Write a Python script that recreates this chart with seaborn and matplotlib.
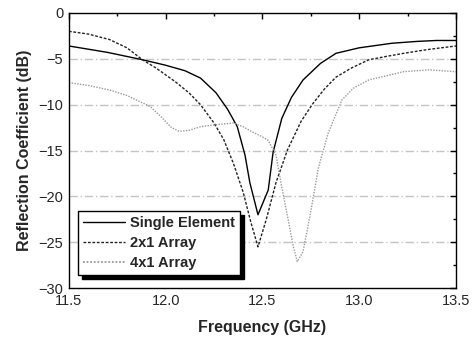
import numpy as np
import pandas as pd
import seaborn as sns
import matplotlib
matplotlib.use("Agg")
import matplotlib.pyplot as plt
from matplotlib.ticker import MultipleLocator

# Data
single_f = [11.5, 11.7, 11.88, 12.0, 12.1, 12.18, 12.26, 12.32, 12.37, 12.41, 12.435,
            12.477, 12.53, 12.555, 12.6, 12.65, 12.71, 12.8, 12.88, 13.0, 13.17, 13.3, 13.4, 13.5]
single_db = [-3.6, -4.3, -5.1, -5.7, -6.3, -7.1, -8.7, -10.5, -12.4, -15.5, -18.5,
             -22.0, -19.3, -15.2, -11.5, -9.2, -7.3, -5.5, -4.4, -3.8, -3.3, -3.1, -3.0, -3.0]

arr2_f = [11.5, 11.6, 11.71, 11.8, 11.88, 11.95, 12.05, 12.12, 12.18, 12.25, 12.3, 12.35,
          12.4, 12.44, 12.477, 12.52, 12.57, 12.63, 12.7, 12.76, 12.82, 12.88, 12.96,
          13.05, 13.15, 13.23, 13.35, 13.5]
arr2_db = [-2.0, -2.3, -2.9, -3.8, -5.1, -6.0, -7.5, -8.7, -10.0, -12.0, -13.8, -16.4,
           -19.5, -22.8, -25.5, -22.5, -18.5, -14.9, -11.8, -9.9, -8.3, -7.0, -6.0,
           -5.1, -4.7, -4.4, -4.0, -3.6]

arr4_f = [11.5, 11.6, 11.71, 11.8, 11.92, 11.98, 12.03, 12.07, 12.12, 12.18, 12.25, 12.35,
          12.4, 12.45, 12.5, 12.53, 12.57, 12.6, 12.63, 12.66, 12.68, 12.71, 12.745, 12.79,
          12.84, 12.91, 12.97, 13.05, 13.15, 13.23, 13.36, 13.5]
arr4_db = [-7.6, -7.9, -8.4, -9.0, -10.2, -11.4, -12.5, -12.9, -12.8, -12.4, -12.2, -12.0,
           -12.4, -13.0, -13.5, -13.9, -15.5, -19.0, -22.2, -25.5, -27.1, -26.0, -22.2, -16.8,
           -13.1, -9.5, -8.2, -7.3, -6.8, -6.4, -6.2, -6.4]

labels = ["Single Element", "2x1 Array", "4x1 Array"]

df = pd.concat([
    pd.DataFrame({"freq": single_f, "s11": single_db, "series": labels[0]}),
    pd.DataFrame({"freq": arr2_f, "s11": arr2_db, "series": labels[1]}),
    pd.DataFrame({"freq": arr4_f, "s11": arr4_db, "series": labels[2]}),
], ignore_index=True)

sns.set_style("white")
plt.rcParams["font.family"] = ["Liberation Sans", "DejaVu Sans"]

fig = plt.figure(figsize=(4.72, 3.41), dpi=100)
ax = fig.add_axes([0.146, 0.155, 0.820, 0.807])

palette = {labels[0]: "black", labels[1]: "#222222", labels[2]: "#9a9a9a"}
dashes = {labels[0]: "", labels[1]: (2.0, 1.2), labels[2]: (1.0, 1.0)}
sns.lineplot(data=df, x="freq", y="s11", hue="series", style="series",
             palette=palette, dashes=dashes, sort=False, estimator=None,
             linewidth=1.0, ax=ax)
for line in ax.lines:
    if line.get_label() == labels[2]:
        line.set_linewidth(1.3)

ax.set_xlim(11.5, 13.5)
ax.set_ylim(-30, 0)
ax.xaxis.set_major_locator(MultipleLocator(0.5))
ax.xaxis.set_minor_locator(MultipleLocator(0.25))
ax.yaxis.set_major_locator(MultipleLocator(5))
ax.yaxis.set_minor_locator(MultipleLocator(2.5))
ax.xaxis.set_major_formatter(matplotlib.ticker.FormatStrFormatter("%.1f"))
ax.tick_params(which="both", direction="in", top=True, right=True,
               labelsize=10.5, color="black", pad=4)
ax.tick_params(which="major", length=4, width=1)
ax.tick_params(which="minor", length=2.5, width=1)
for s in ax.spines.values():
    s.set_color("black")
    s.set_linewidth(1.0)

for yv in [-5, -10, -15, -20, -25]:
    ax.axhline(yv, color="#c4c4c4", lw=1.0, ls=(0, (6, 2, 1, 2)), zorder=0)

ax.set_xlabel("Frequency (GHz)", fontsize=11.5, fontweight="bold", labelpad=9)
ax.set_ylabel("Reflection Coefficient (dB)", fontsize=11.5, fontweight="bold", labelpad=5)

leg = ax.legend(loc="lower left", bbox_to_anchor=(0.023, 0.047), borderaxespad=0,
                fancybox=False, frameon=True, edgecolor="black", framealpha=1,
                prop={"size": 10.5, "weight": "bold"}, handlelength=2.9,
                handletextpad=0.3, labelspacing=0.42, borderpad=0.35,
                shadow={"ox": 3, "oy": -3, "facecolor": "black", "edgecolor": "black", "alpha": 1})
leg.get_frame().set_linewidth(1.0)

fig.savefig("out.png", dpi=100)
